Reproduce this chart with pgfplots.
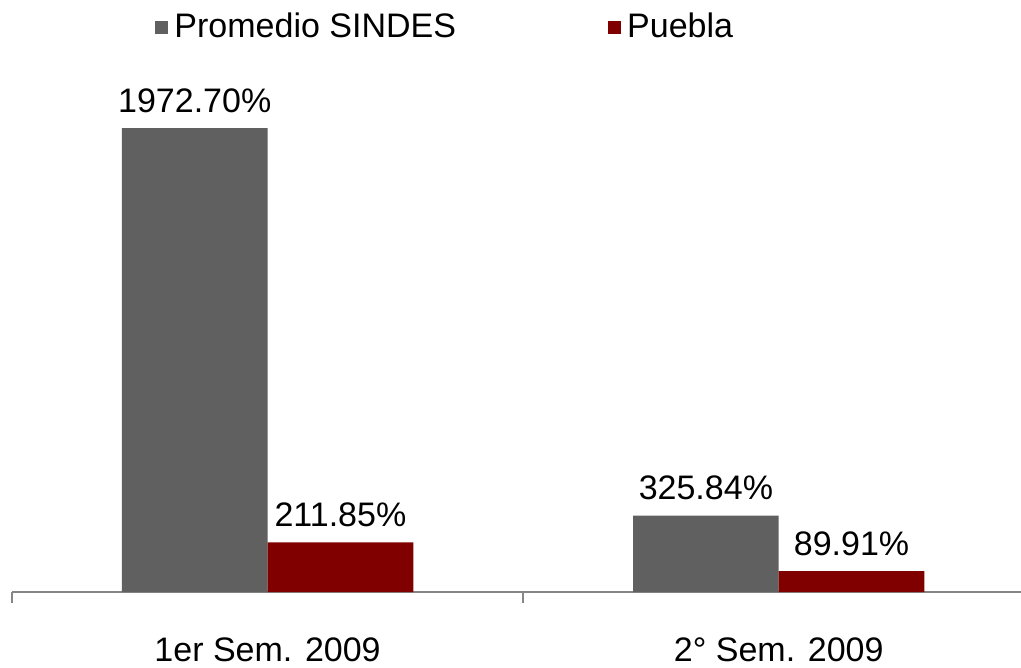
\documentclass[border=0pt]{standalone}
\usepackage{fontspec}
\setmainfont{Liberation Sans}
\usepackage{pgfplots}
\pgfplotsset{compat=1.18}

\definecolor{sindes}{HTML}{606060}
\definecolor{puebla}{HTML}{800000}
\definecolor{axgray}{HTML}{868686}

\begin{document}
\begin{tikzpicture}
\begin{axis}[
  name=ax,
  x=255.5pt, y=0.1176pt,
  xmin=-0.5, xmax=1.474, ymin=0, ymax=2517,
  clip=false,
  axis y line=none, axis x line*=bottom,
  x axis line style={axgray, line width=1pt, -},
  ybar, bar width=0.285,
  xtick={0,1}, xticklabels={1er Sem. 2009, 2° Sem. 2009},
  major tick length=0pt,
  xticklabel style={anchor=north, inner sep=0pt, yshift=-22.5pt, font=\fontsize{17}{20}\selectfont},
  extra x ticks={-0.5,0.5}, extra x tick labels={},
  extra x tick style={major tick length=5.5pt, tick align=outside,
    tick style={axgray, line width=1pt}},
  nodes near coords={\pgfmathprintnumber[fixed,precision=2,fixed zerofill,1000 sep={},assume math mode=true]{\pgfplotspointmeta}\%},
  every node near coord/.append style={font=\fontsize{17}{20}\selectfont, black, inner sep=0pt, anchor=south, yshift=7.5pt},
  legend style={draw=none, fill=none, at={(0.1418,0.9544)}, anchor=west,
    legend columns=2, inner sep=0pt,
    font=\fontsize{17}{20}\selectfont,
    nodes={inner sep=0pt},
    /tikz/every odd column/.append style={column sep=3pt},
    /tikz/every even column/.append style={column sep=76pt}},
  legend image code/.code={\fill[#1] (0pt,-3.5pt) rectangle (6.5pt,3pt);},
]
\addplot[fill=sindes, draw=none, bar shift=-0.1425] coordinates {(0,1972.70) (1,325.84)};
\addplot[fill=puebla, draw=none, bar shift=0.1425] coordinates {(0,211.85) (1,89.91)};
\legend{Promedio SINDES, Puebla}
\end{axis}
\pgfresetboundingbox
\path ([xshift=-6pt,yshift=-37.5pt]ax.south west) rectangle (ax.north east);
\end{tikzpicture}
\end{document}
